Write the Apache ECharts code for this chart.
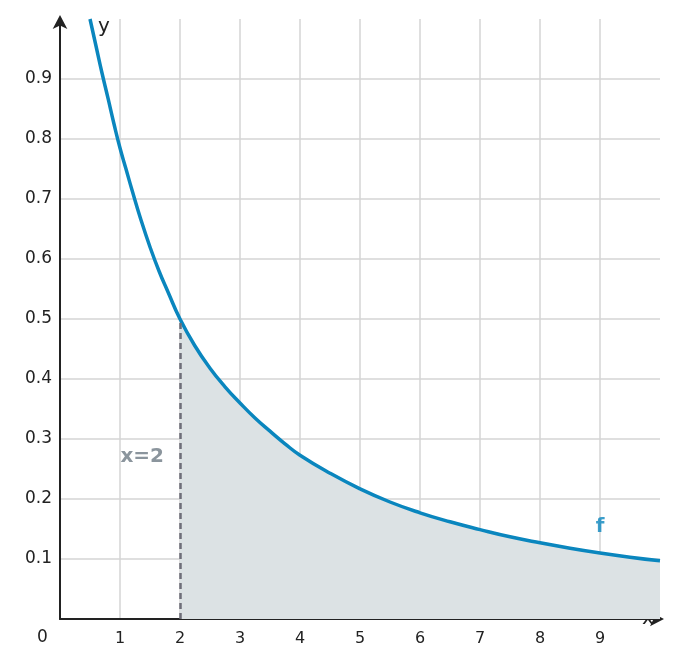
<!DOCTYPE html><html><head><meta charset="utf-8"><script src="https://cdn.jsdelivr.net/npm/echarts@6/dist/echarts.min.js"></script></head><body style="margin:0"><div id="c" style="width:680px;height:668px"></div><script>
const xs=[0.5,0.6,0.7,0.8,0.9,1,1.1,1.2,1.35,1.5,1.65,1.8,2,2.25,2.5,2.75,3,3.25,3.5,3.75,4,4.5,5,5.5,6,6.5,7,7.5,8,8.5,9,9.5,10];
const ys=[1.0,0.955,0.91,0.868,0.825,0.785,0.75,0.715,0.665,0.62,0.58,0.545,0.5,0.455,0.418,0.387,0.36,0.335,0.313,0.292,0.273,0.243,0.217,0.195,0.177,0.162,0.149,0.137,0.127,0.118,0.11,0.103,0.097];
const labelX=[{x:1.37,y:0.27,t:'x=2',c:'#6e7b85'},{x:9,y:0.153,t:'f',c:'#0a86be'}];
const curve=xs.map((x,i)=>[x,ys[i]]);
const area=curve.filter(p=>p[0]>=2);
const ch=echarts.init(document.getElementById('c'));
const ax={color:'#222',fontSize:16,fontFamily:'DejaVu Sans'};
ch.setOption({animation:false,grid:{left:60,right:20,top:19,bottom:49},
xAxis:{type:'value',min:0,max:10,interval:1,name:'x',nameLocation:'end',nameGap:-18,nameTextStyle:{...ax,fontSize:20,padding:[0,0,44,0]},
axisLine:{onZero:false,lineStyle:{color:'#222',width:2},symbol:['none','arrow'],symbolSize:[11,14],symbolOffset:[0,4]},axisTick:{show:false},
axisLabel:{...ax,margin:12,formatter:v=>(v>0&&v<10)?v:''},splitLine:{showMaxLine:false,lineStyle:{color:'#d5d5d5',width:1.5}}},
yAxis:{type:'value',min:0,max:1,interval:0.1,name:'y',nameLocation:'end',nameGap:-18,nameTextStyle:{...ax,fontSize:20,align:'left',padding:[0,0,0,38]},
axisLine:{lineStyle:{color:'#222',width:2},symbol:['none','arrow'],symbolSize:[11,14],symbolOffset:[0,4]},axisTick:{show:false},
axisLabel:{...ax,fontSize:17,margin:8,formatter:v=>(v>0.01&&v<0.99)?v.toFixed(1):''},splitLine:{showMaxLine:false,lineStyle:{color:'#d5d5d5',width:1.5}}},
graphic:[{type:'text',left:37,top:629,style:{text:'0',font:'17px DejaVu Sans',fill:'#222'}}],
series:[
{type:'line',data:area,smooth:true,symbol:'none',lineStyle:{width:0},areaStyle:{color:'#dce2e4',opacity:1},
markLine:{symbol:'none',silent:true,label:{show:false},lineStyle:{type:[6,4],color:'#6e6e78',width:2.5},data:[[{coord:[2,0]},{coord:[2,0.5]}]]}},
{type:'line',data:curve,smooth:true,symbol:'none',lineStyle:{color:'#0a86be',width:3.5}},
{type:'scatter',symbolSize:0,data:labelX.map(l=>({value:[l.x,l.y],label:{show:true,formatter:l.t,color:l.c,fontSize:20,fontWeight:'bold',fontFamily:'DejaVu Sans'}}))}
]});
</script></body></html>
